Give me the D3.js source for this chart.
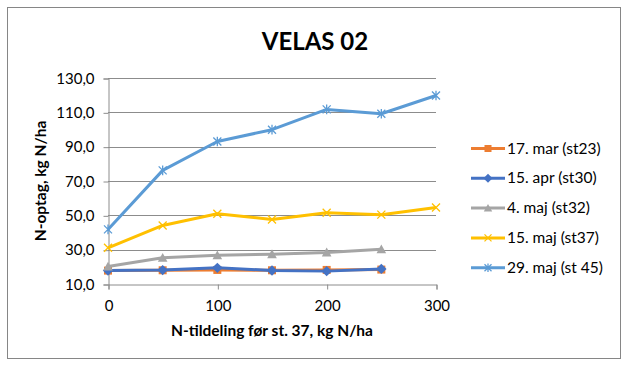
<!DOCTYPE html>
<html>
<head>
<meta charset="utf-8">
<script src="https://cdn.jsdelivr.net/npm/d3@7"></script>
<style>
  body { margin: 0; background: #fff; }
  svg { font-family: Lato, "Open Sans", sans-serif; }
</style>
</head>
<body>
<svg width="632" height="368"></svg>
<script>
const doses = [0, 50, 100, 150, 200, 250, 300];
const seriesNames = ["17. mar (st23)", "15. apr (st30)", "4. maj (st32)", "15. maj (st37)", "29. maj (st 45)"];
const mar17 = [17.8, 18.0, 18.2, 18.0, 18.2, 18.4];
const apr15 = [17.8, 18.1, 19.4, 17.9, 17.5, 18.8];
const maj4  = [20.2, 25.3, 26.7, 27.4, 28.4, 30.2];
const maj15 = [31.1, 44.1, 50.9, 47.6, 51.5, 50.4, 54.6];
const maj29 = [41.8, 76.2, 93.0, 99.9, 111.7, 109.2, 119.8];
const yTicks = [10, 30, 50, 70, 90, 110, 130];
const xTicks = [0, 100, 200, 300];

const colors = ["#ED7D31", "#4472C4", "#A5A5A5", "#FFC000", "#5B9BD5"];
const markers = ["square", "diamond", "triangle", "x", "star"];
const allSeries = [mar17, apr15, maj4, maj15, maj29];

const svg = d3.select("svg");
const margin = {left: 108, right: 196, top: 78, bottom: 84};
const width = 632, height = 368;

svg.append("rect")
  .attr("x", 7.5).attr("y", 7.5)
  .attr("width", 613).attr("height", 351)
  .attr("fill", "#fff").attr("stroke", "#868686").attr("stroke-width", 1);

const x = d3.scaleLinear().domain([0, 300]).range([margin.left, width - margin.right]);
const y = d3.scaleLinear().domain([10, 130]).range([height - margin.bottom, margin.top]);

// gridlines
svg.append("g")
  .selectAll("line")
  .data(yTicks.slice(1))
  .enter().append("line")
  .attr("x1", x(0)).attr("x2", x(300))
  .attr("y1", d => Math.round(y(d)) + 0.5).attr("y2", d => Math.round(y(d)) + 0.5)
  .attr("stroke", "#8c8c8c").attr("stroke-width", 1);

const fmt = d => d.toFixed(1).replace(".", ",");

const yAxis = svg.append("g")
  .attr("transform", `translate(${x(0) + 0.5},0.5)`)
  .call(d3.axisLeft(y).tickValues(yTicks).tickFormat(fmt).tickSize(5).tickPadding(9));
const xAxis = svg.append("g")
  .attr("transform", `translate(0.5,${Math.round(y(10)) + 0.5})`)
  .call(d3.axisBottom(x).tickValues(xTicks).tickSize(5).tickPadding(11));

[yAxis, xAxis].forEach(g => {
  g.selectAll("path, line").attr("stroke", "#8c8c8c");
  g.selectAll("text").attr("fill", "#000").style("font-size", "15px")
    .style("font-family", "Lato, 'Open Sans', sans-serif");
});

function drawMarker(g, type, color, size) {
  const s = size;
  if (type === "square") {
    g.append("rect").attr("x", -s / 2).attr("y", -s / 2).attr("width", s).attr("height", s).attr("fill", color);
  } else if (type === "diamond") {
    g.append("path").attr("d", `M0,${-s * 0.65}L${s * 0.65},0L0,${s * 0.65}L${-s * 0.65},0Z`).attr("fill", color);
  } else if (type === "triangle") {
    g.append("path").attr("d", `M0,${-s * 0.6}L${s * 0.6},${s * 0.5}L${-s * 0.6},${s * 0.5}Z`).attr("fill", color);
  } else if (type === "x") {
    g.append("path").attr("d", `M${-s / 2},${-s / 2}L${s / 2},${s / 2}M${s / 2},${-s / 2}L${-s / 2},${s / 2}`)
      .attr("stroke", color).attr("stroke-width", 1.3).attr("fill", "none");
  } else if (type === "star") {
    g.append("path").attr("d", `M${-s / 2},${-s / 2}L${s / 2},${s / 2}M${s / 2},${-s / 2}L${-s / 2},${s / 2}M0,${-s * 0.6}L0,${s * 0.6}`)
      .attr("stroke", color).attr("stroke-width", 1.3).attr("fill", "none");
  }
}

const line = d3.line().x((d, i) => x(doses[i])).y(d => y(d));

allSeries.forEach((vals, k) => {
  const g = svg.append("g");
  g.append("path")
    .attr("d", line(vals))
    .attr("fill", "none")
    .attr("stroke", colors[k])
    .attr("stroke-width", 3)
    .attr("stroke-linejoin", "round");
  vals.forEach((v, i) => {
    const m = g.append("g").attr("transform", `translate(${x(doses[i])},${y(v)})`);
    drawMarker(m, markers[k], colors[k], 8);
  });
});

// legend
const legend = svg.append("g");
seriesNames.forEach((name, k) => {
  const ly = 148.5 + k * 29.8;
  legend.append("line")
    .attr("x1", 471).attr("x2", 505).attr("y1", ly).attr("y2", ly)
    .attr("stroke", colors[k]).attr("stroke-width", 3);
  const m = legend.append("g").attr("transform", `translate(488,${ly})`);
  drawMarker(m, markers[k], colors[k], 7);
  legend.append("text")
    .attr("x", 507).attr("y", ly + 5)
    .style("font-size", "15.5px")
    .text(name);
});

svg.append("text")
  .attr("x", 315).attr("y", 50)
  .attr("text-anchor", "middle")
  .style("font-size", "24px").style("font-weight", "bold")
  .text("VELAS 02");

svg.append("text")
  .attr("x", 272).attr("y", 336)
  .attr("text-anchor", "middle")
  .style("font-size", "15.5px").style("font-weight", "bold")
  .text("N-tildeling før st. 37, kg N/ha");

svg.append("text")
  .attr("transform", "translate(46,181) rotate(-90)")
  .attr("text-anchor", "middle")
  .style("font-size", "15.5px").style("font-weight", "bold")
  .text("N-optag, kg N/ha");
</script>
</body>
</html>
